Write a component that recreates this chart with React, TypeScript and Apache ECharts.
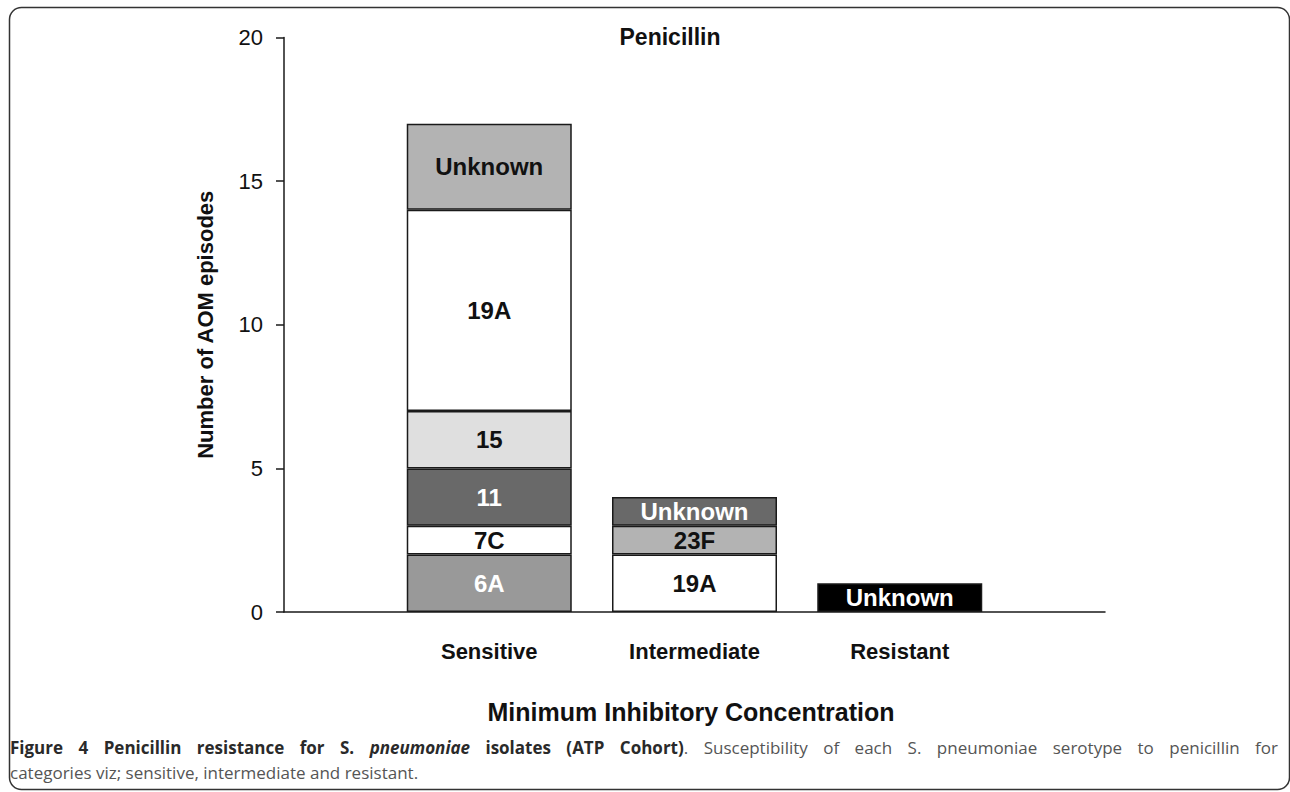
import React, { useEffect, useRef } from "react";
import * as echarts from "echarts";

const categories = ["", "Sensitive", "Intermediate", "Resistant", ""];

const sensitiveSerotypes = ["6A", "7C", "11", "15", "19A", "Unknown"];
const sensitiveCounts = [2, 1, 2, 2, 7, 3];
const intermediateSerotypes = ["19A", "23F", "Unknown"];
const intermediateCounts = [2, 1, 1];
const resistantSerotypes = ["Unknown"];
const resistantCounts = [1];

const sensitiveFills = ["#999999", "#ffffff", "#696969", "#dfdfdf", "#ffffff", "#b3b3b3"];
const intermediateFills = ["#ffffff", "#b3b3b3", "#696969"];
const resistantFills = ["#000000"];

const sensitiveLabelColors = ["#ffffff", "#111111", "#ffffff", "#111111", "#111111", "#111111"];
const intermediateLabelColors = ["#111111", "#111111", "#ffffff"];
const resistantLabelColors = ["#ffffff"];

const yMin = 0;
const yMax = 20;
const yInterval = 5;

const chartTitle = "Penicillin";
const xAxisTitle = "Minimum Inhibitory Concentration";
const yAxisTitle = "Number of AOM episodes";

// caption line 1 as words; each word is a list of [style, text] parts
const captionLine1: [string, string][][] = [
  [["b", "Figure"]], [["b", "4"]], [["b", "Penicillin"]], [["b", "resistance"]], [["b", "for"]],
  [["b", "S."]], [["bi", "pneumoniae"]], [["b", "isolates"]], [["b", "(ATP"]],
  [["b", "Cohort)"], ["r", "."]], [["r", "Susceptibility"]], [["r", "of"]], [["r", "each"]],
  [["r", "S."]], [["r", "pneumoniae"]], [["r", "serotype"]], [["r", "to"]], [["r", "penicillin"]], [["r", "for"]],
];
const captionLine2 = "categories viz; sensitive, intermediate and resistant.";

const groups: Record<string, { names: string[]; counts: number[]; fills: string[]; labels: string[] }> = {
  Sensitive: { names: sensitiveSerotypes, counts: sensitiveCounts, fills: sensitiveFills, labels: sensitiveLabelColors },
  Intermediate: { names: intermediateSerotypes, counts: intermediateCounts, fills: intermediateFills, labels: intermediateLabelColors },
  Resistant: { names: resistantSerotypes, counts: resistantCounts, fills: resistantFills, labels: resistantLabelColors },
};

const FONT = "'Liberation Sans', Arial, sans-serif";
const CAP_FONT = "'Open Sans', sans-serif";
const CAP_SIZE = 17;
const capStyles: Record<string, { css: string; rich: any }> = {
  b: {
    css: `bold ${CAP_SIZE}px ${CAP_FONT}`,
    rich: { fontFamily: CAP_FONT, fontWeight: "bold", fontSize: CAP_SIZE, fill: "#2a2a2a" },
  },
  bi: {
    css: `italic bold ${CAP_SIZE}px ${CAP_FONT}`,
    rich: { fontFamily: CAP_FONT, fontWeight: "bold", fontStyle: "italic", fontSize: CAP_SIZE, fill: "#2a2a2a" },
  },
  r: {
    css: `${CAP_SIZE}px ${CAP_FONT}`,
    rich: { fontFamily: CAP_FONT, fontSize: CAP_SIZE, fill: "#555555" },
  },
};

function buildCaption(): any[] {
  const canvas = document.createElement("canvas");
  const ctx = canvas.getContext("2d")!;
  const widths = captionLine1.map((parts) =>
    parts.reduce((s, [st, t]) => {
      ctx.font = capStyles[st].css;
      return s + ctx.measureText(t).width;
    }, 0)
  );
  const left = 10;
  const right = 1278;
  const total = widths.reduce((a, b) => a + b, 0);
  const gap = (right - left - total) / (captionLine1.length - 1);
  let x = left;
  const els: any[] = [];
  captionLine1.forEach((parts, i) => {
    els.push({
      type: "text",
      x,
      y: 747,
      style: {
        text: parts.map(([st, t]) => `{${st}|${t}}`).join(""),
        textVerticalAlign: "middle",
        rich: { b: capStyles.b.rich, bi: capStyles.bi.rich, r: capStyles.r.rich },
      },
    });
    x += widths[i] + gap;
  });
  els.push({
    type: "text",
    x: left,
    y: 772,
    style: { text: captionLine2, font: capStyles.r.css, fill: "#555555", textVerticalAlign: "middle" },
  });
  return els;
}

export default function App() {
  const ref = useRef<HTMLDivElement>(null);
  useEffect(() => {
    if (!ref.current) return;
    const chart = echarts.init(ref.current, null, { renderer: "svg" });
    const levels = Math.max(...Object.values(groups).map((g) => g.counts.length));
    const series: any[] = [];
    for (let i = 0; i < levels; i++) {
      series.push({
        type: "bar",
        stack: "total",
        barWidth: 165,
        data: categories.map((c) => {
          const g = groups[c];
          if (!g || i >= g.counts.length) return null;
          return {
            value: g.counts[i],
            name: g.names[i],
            itemStyle: { color: g.fills[i], borderColor: "#1a1a1a", borderWidth: 1.5 },
            label: { color: g.labels[i] },
          };
        }),
        label: {
          show: true,
          position: "inside",
          fontFamily: FONT,
          fontWeight: "bold",
          fontSize: 24,
          formatter: (p: any) => (p.data ? p.data.name : ""),
        },
      });
    }
    chart.setOption({
      animation: false,
      backgroundColor: "#ffffff",
      grid: { left: 284, right: 185, top: 37.5, bottom: 180 },
      xAxis: {
        type: "category",
        data: categories,
        boundaryGap: false,
        axisLine: { lineStyle: { color: "#1a1a1a", width: 1.5 } },
        axisTick: { show: false },
        axisLabel: {
          interval: 0,
          margin: 28,
          fontFamily: FONT,
          fontWeight: "bold",
          fontSize: 22,
          color: "#111111",
        },
      },
      yAxis: {
        type: "value",
        min: yMin,
        max: yMax,
        interval: yInterval,
        splitLine: { show: false },
        axisLine: { show: true, lineStyle: { color: "#1a1a1a", width: 1.5 } },
        axisTick: { show: true, length: 8, lineStyle: { color: "#1a1a1a", width: 1.5 } },
        axisLabel: { margin: 21, fontFamily: FONT, fontSize: 22, color: "#111111" },
        name: yAxisTitle,
        nameLocation: "middle",
        nameGap: 68,
        nameRotate: 90,
        nameTextStyle: { fontFamily: FONT, fontWeight: "bold", fontSize: 22, color: "#111111" },
      },
      series,
      graphic: [
        {
          type: "rect",
          shape: { x: 9.5, y: 7.5, width: 1280, height: 782, r: 12 },
          style: { fill: "none", stroke: "#333333", lineWidth: 1.5 },
          silent: true,
        },
        {
          type: "text",
          x: 670,
          y: 37,
          style: {
            text: chartTitle,
            font: `bold 23px ${FONT}`,
            fill: "#111111",
            textAlign: "center",
            textVerticalAlign: "middle",
          },
        },
        {
          type: "text",
          x: 691,
          y: 712,
          style: {
            text: xAxisTitle,
            font: `bold 25px ${FONT}`,
            fill: "#111111",
            textAlign: "center",
            textVerticalAlign: "middle",
          },
        },
        ...buildCaption(),
      ],
    });
    return () => chart.dispose();
  }, []);
  return <div ref={ref} style={{ position: "fixed", left: 0, top: 0, width: 1290, height: 792 }} />;
}
